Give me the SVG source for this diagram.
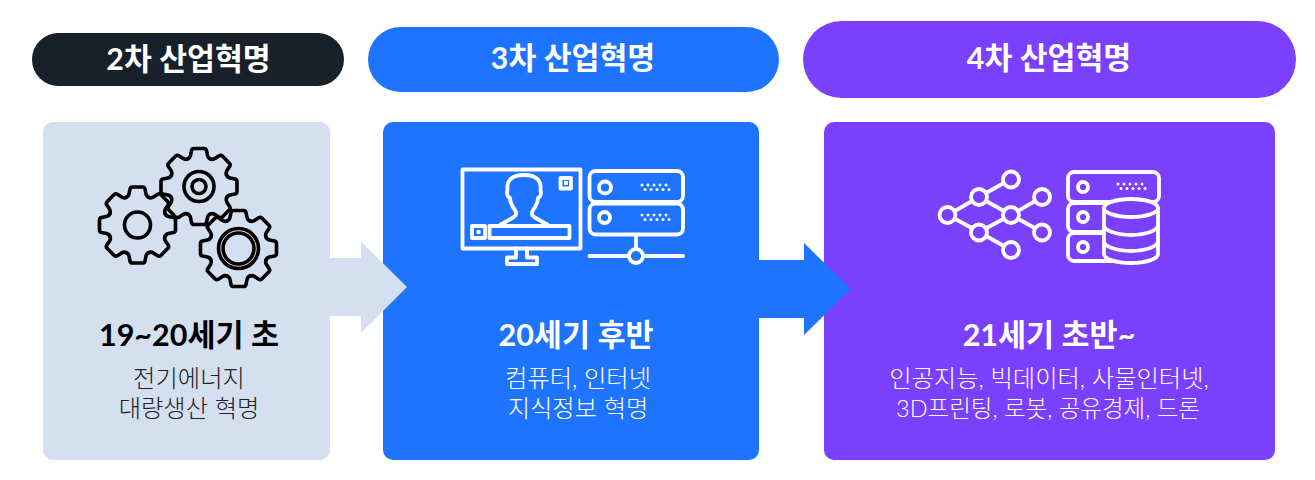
<svg xmlns="http://www.w3.org/2000/svg" width="1315" height="480" viewBox="0 0 1315 480">
<style>
text{font-family:Lato,"Noto Sans CJK KR","Noto Sans",sans-serif;text-anchor:middle}
.h{font-size:30.300px;font-weight:700;fill:#fff}
.t{font-size:30.500px;font-weight:700}
.b{font-size:24.300px;font-weight:300}
.w{fill:#fff}
.k{fill:none;stroke:#000;stroke-width:3.600;stroke-linecap:round;stroke-linejoin:round}
.i{fill:none;stroke:#fff;stroke-width:3.800;stroke-linecap:round;stroke-linejoin:round}
</style>
<defs>
<path id="tooth" d="M-11.500,-27.500Q-9,-28.500 -8.500,-31L-7.500,-36Q-7,-38 -5,-38L5,-38Q7,-38 7.500,-36L8.500,-31Q9,-28.500 11.500,-27.500"/>
<g id="gear">
<use href="#tooth"/><use href="#tooth" transform="rotate(45)"/><use href="#tooth" transform="rotate(90)"/><use href="#tooth" transform="rotate(135)"/><use href="#tooth" transform="rotate(180)"/><use href="#tooth" transform="rotate(225)"/><use href="#tooth" transform="rotate(270)"/><use href="#tooth" transform="rotate(315)"/>
</g>
<g id="dots" fill="#fff">
<circle cx="0" cy="0" r="1.500"/><circle cx="6" cy="0" r="1.500"/><circle cx="12" cy="0" r="1.500"/><circle cx="18" cy="0" r="1.500"/><circle cx="24" cy="0" r="1.500"/>
<circle cx="3" cy="4.500" r="1.500"/><circle cx="9" cy="4.500" r="1.500"/><circle cx="15" cy="4.500" r="1.500"/><circle cx="21" cy="4.500" r="1.500"/><circle cx="27" cy="4.500" r="1.500"/>
</g>
</defs>
<rect width="1315" height="480" fill="#fff"/>
<g id="node-2nd">
<rect x="32" y="33" width="312" height="53" rx="26.500" fill="#18202a"/>
<text class="h" x="188.500" y="70">2차 산업혁명</text>
<rect x="43" y="122" width="287" height="338" rx="10" fill="#d4dfef"/>
<g class="k">
<g transform="translate(137.500,225)"><use href="#gear"/><circle r="13"/></g>
<g transform="translate(199,186.500)"><use href="#gear"/><circle r="15"/><circle r="7"/></g>
<g transform="translate(238.500,248.500)"><use href="#gear"/><circle r="20"/><circle r="15.500"/></g>
</g>
<text class="t" x="189" y="346" fill="#000">19~20세기 초</text>
<text class="b" x="189" y="387" fill="#222">전기에너지</text>
<text class="b" x="189" y="417" fill="#222">대량생산 혁명</text>
</g>
<g id="node-3rd">
<rect x="368" y="27" width="411" height="65" rx="32.500" fill="#1f74ff"/>
<text class="h" x="573" y="69">3차 산업혁명</text>
<rect x="383" y="122" width="376" height="338" rx="10" fill="#1f74ff"/>
<g class="i">
<rect x="462.500" y="169.500" width="118" height="79"/>
<path d="M516,248.500V257.500H507V264H537V257.500H527V248.500"/>
<path d="M500,225L514,217Q517,215 516,212L513,207Q510,202 510,198Q506,196 507.500,190Q506,175 524,175Q542,175 540.500,190Q542,196 538,198Q538,202 535,207L532,212Q531,215 534,217L548,225"/>
<rect x="560.500" y="178" width="10.500" height="10.500"/>
<rect x="472" y="226" width="13" height="12"/>
<rect x="489.500" y="226" width="80" height="12"/>
<rect x="589.500" y="171" width="93.500" height="31" rx="6"/>
<rect x="589.500" y="203.500" width="93.500" height="31" rx="6"/>
<circle cx="605" cy="187.500" r="6"/>
<circle cx="604.500" cy="217.500" r="5.500"/>
<path d="M636,235V249M589.500,256H629M643,256H683"/>
<circle cx="636" cy="256" r="7"/>
</g>
<rect x="564" y="181" width="4" height="4" class="w"/>
<rect x="476.500" y="230" width="4" height="4" class="w"/>
<use href="#dots" x="642" y="185"/>
<use href="#dots" x="642" y="215"/>
<text class="t" x="576" y="346" fill="#fff">20세기 후반</text>
<text class="b w" x="578" y="387">컴퓨터, 인터넷</text>
<text class="b w" x="578" y="417">지식정보 혁명</text>
</g>
<g id="node-4th">
<rect x="803" y="21" width="493" height="77" rx="38.500" fill="#7b3ffe"/>
<text class="h" x="1049" y="69">4차 산업혁명</text>
<rect x="824" y="122" width="451" height="338" rx="10" fill="#7b3ffe"/>
<g class="i">
<path d="M948,215L979,197L1011,179M979,197L1011,215L1042,197M948,215L979,232L1011,215L1042,232M979,232L1011,250"/>
<g fill="#7b3ffe">
<circle cx="947.500" cy="215" r="8"/><circle cx="979" cy="197" r="8"/><circle cx="1011" cy="179.500" r="8"/><circle cx="1011" cy="215" r="8"/><circle cx="1042" cy="197" r="8"/><circle cx="1042" cy="232.500" r="8"/><circle cx="979" cy="232.500" r="8"/><circle cx="1011" cy="250" r="8"/>
</g>
<rect x="1068" y="172" width="91" height="30" rx="6"/>
<rect x="1068" y="203" width="60" height="29" rx="6"/>
<rect x="1068" y="233" width="60" height="28" rx="6"/>
<circle cx="1083" cy="187" r="5"/><circle cx="1083" cy="217" r="5"/><circle cx="1083" cy="247" r="5"/>
<path fill="#7b3ffe" d="M1104,208V254A27,9 0 0 0 1158,254V208Z"/>
<ellipse cx="1131" cy="208" rx="27" ry="9" fill="#7b3ffe"/>
<path d="M1104,225A27,10 0 0 0 1158,225M1104,241A27,10 0 0 0 1158,241"/>
</g>
<use href="#dots" x="1118" y="184"/>
<text class="t" x="1049" y="346" fill="#fff">21세기 초반~</text>
<text class="b w" x="1049" y="387">인공지능, 빅데이터, 사물인터넷,</text>
<text class="b w" x="1048" y="417" style="font-size:23.500px">3D프린팅, 로봇, 공유경제, 드론</text>
</g>
<g id="connectors">
<path d="M329,258H361V241.500L407,287L361,333V316H329Z" fill="#d4dfef"/>
<path d="M759,260H804V243L851,289L804,335V318H759Z" fill="#1f74ff"/>
</g>
</svg>
